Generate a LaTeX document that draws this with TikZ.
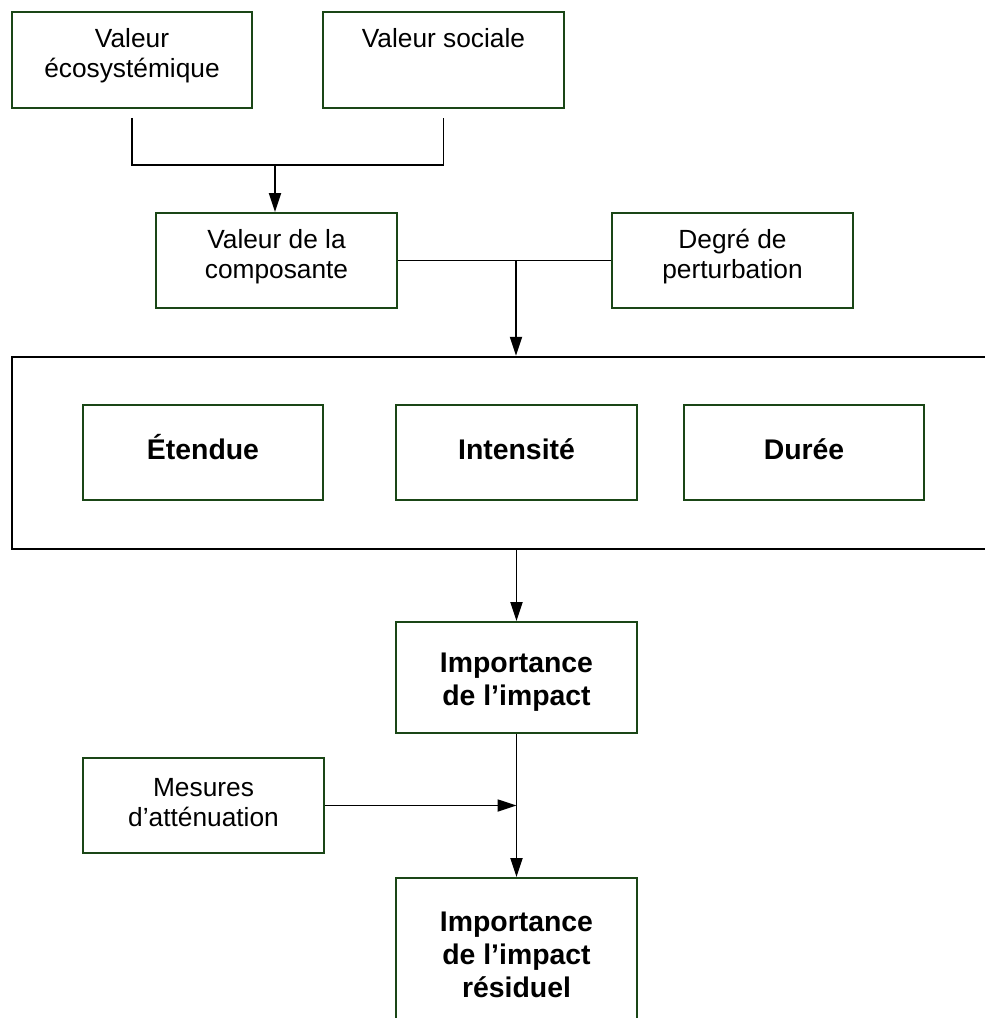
\documentclass[tikz,border=0pt]{standalone}
\usepackage{fontspec}
\setmainfont{Liberation Sans}
\usetikzlibrary{arrows.meta}
\definecolor{boxgreen}{RGB}{26,70,22}
\newcommand\regtxt{\fontsize{26.3}{30}\selectfont}
\newcommand\boldtxt{\fontsize{28.4}{33}\selectfont\bfseries}
\begin{document}
\begin{tikzpicture}[x=1pt,y=-1pt,
  box/.style={draw=boxgreen,line width=1.9pt,rectangle,inner sep=0pt},
  frame/.style={draw=black,line width=2.3pt,rectangle,inner sep=0pt},
  txt/.style={inner sep=0pt,align=center,font=\regtxt},
  btxt/.style={inner sep=0pt,align=center,font=\boldtxt},
  conn/.style={draw=black,line width=1.8pt},
  arr/.style={conn,-{Triangle[length=19pt,width=12pt]}}]
\clip (0,0) rectangle (985,1018);
\useasboundingbox (0,0) rectangle (985,1018);
% boxes
\node[box,minimum width=240,minimum height=96] (eco) at (132,60) {};
\node[txt] (ecot) at (132,56) {Valeur\\écosystémique};
\node[box,minimum width=241,minimum height=96] (soc) at (443.5,60) {};
\node[txt,anchor=base] (soct) at (443.5,47) {Valeur sociale};
\node[box,minimum width=241,minimum height=95] (comp) at (276.5,260.5) {};
\node[txt] (compt) at (276.5,257) {Valeur de la\\composante};
\node[box,minimum width=241,minimum height=95] (deg) at (732.5,260.5) {};
\node[txt] (degt) at (732.5,257) {Degré de\\perturbation};
\node[frame,minimum width=978,minimum height=192] (big) at (501,453) {};
\node[box,minimum width=240,minimum height=95] (ete) at (203,452.5) {};
\node[btxt,anchor=base] (etet) at (203,459) {Étendue};
\node[box,minimum width=241,minimum height=95] (int) at (516.5,452.5) {};
\node[btxt,anchor=base] (intt) at (516.5,459) {Intensité};
\node[box,minimum width=240,minimum height=95] (dur) at (804,452.5) {};
\node[btxt,anchor=base] (durt) at (804,459) {Durée};
\node[box,minimum width=241,minimum height=111] (imp) at (516.5,677.5) {};
\node[btxt] (impt) at (516.5,682) {Importance\\de l’impact};
\node[box,minimum width=241,minimum height=95] (mes) at (203.5,805.5) {};
\node[txt] (mest) at (203.5,803) {Mesures\\d’atténuation};
\node[box,minimum width=241,minimum height=152] (res) at (516.5,954) {};
\node[btxt] (rest) at (516.5,955) {Importance\\de l’impact\\résiduel};
% connectors
\coordinate (j1) at (132,165);
\coordinate (j2) at (443.5,165);
\coordinate (jm) at (275,165);
\draw[conn] ([yshift=-9pt]eco.south) -- (j1) -- (j2) -- ([yshift=-9pt]soc.south);
\draw[arr] (jm) -- (jm |- comp.north);
\draw[conn] (comp.east) -- (deg.west);
\coordinate (j3) at (516,260.5);
\draw[arr] (j3) -- (j3 |- big.north);
\draw[arr] (big.south -| imp.north) -- (imp.north);
\draw[arr] (imp.south) -- (res.north);
\draw[arr] (mes.east) -- (mes.east -| imp.south);
\end{tikzpicture}
\end{document}
